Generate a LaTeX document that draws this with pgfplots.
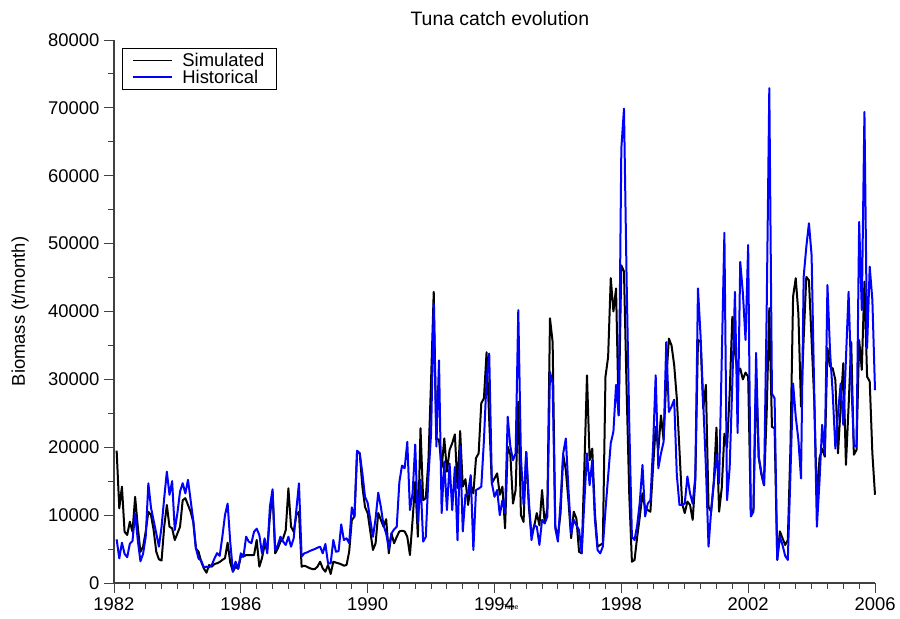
\documentclass[border=0pt]{standalone}
\usepackage{pgfplots}
\usepackage{pgfplotstable}
\pgfplotsset{compat=1.18}
\usepackage{fontspec}
\setmainfont{Liberation Sans}
\pgfplotstableread{
m S H
1 19500 6430
2 11000 3630
3 14200 5940
4 7550 4300
5 7070 3800
6 9030 5800
7 7550 6200
8 12700 10270
9 8300 6300
10 4600 3200
11 5350 4300
12 7550 6800
13 10500 14690
14 10000 11100
15 7800 9200
16 4600 7300
17 3490 5350
18 3300 8300
19 8300 12500
20 11500 16400
21 8300 13000
22 8050 15000
23 6330 7800
24 7300 10300
25 8300 13500
26 12200 14700
27 12500 13200
28 11500 15200
29 10500 12200
30 9000 9200
31 5100 5100
32 4600 3600
33 3140 3300
34 2160 2300
35 1520 2400
36 2650 2300
37 2400 2650
38 2800 3600
39 2900 4400
40 3100 4000
41 3400 6800
42 3650 10000
43 5940 11700
44 3000 6000
45 1670 1670
46 2400 3140
47 2100 2100
48 3900 4370
49 3900 3900
50 4120 6820
51 4120 6100
52 4120 5870
53 4120 7560
54 6340 8000
55 2400 7070
56 3650 4370
57 5600 6580
58 4860 4370
59 9770 11240
60 13460 13800
61 4370 4860
62 5100 5600
63 6100 6820
64 6580 6100
65 7800 5600
66 13950 6820
67 8300 5350
68 7560 6580
69 10000 10750
70 10500 14690
71 2400 3900
72 2550 4370
73 2400 4500
74 2200 4700
75 2060 4860
76 2060 5000
77 2400 5200
78 3140 5350
79 2150 4370
80 1670 5750
81 2650 2900
82 1330 2900
83 3140 6340
84 3000 4600
85 2900 4700
86 2750 8640
87 2550 6340
88 2650 6580
89 4600 5870
90 9280 11150
91 9770 9770
92 19350 19490
93 19100 19100
94 14200 16160
95 11200 12700
96 10300 11800
97 7600 9300
98 4860 6800
99 5850 9500
100 10300 13300
101 9300 11200
102 8300 8500
103 9400 7300
104 4370 5100
105 7300 7300
106 5850 7900
107 6800 8300
108 7600 14900
109 7700 17300
110 7600 16900
111 6800 20800
112 4120 10750
113 9300 13200
114 14900 20400
115 6800 8800
116 22800 15200
117 12200 6100
118 12500 6800
119 18100 15700
120 29900 22000
121 42900 41200
122 21300 20100
123 21100 32800
124 17000 10300
125 21300 17900
126 16400 10750
127 19600 17600
128 20600 10750
129 21900 17100
130 14000 6300
131 22400 20100
132 14200 7600
133 15300 13000
134 11500 13200
135 14400 15900
136 13200 4860
137 18400 13700
138 19100 13900
139 26500 14200
140 27200 21000
141 34000 30000
142 24000 33800
143 14700 14700
144 15400 12700
145 16150 13700
146 13000 10000
147 14200 12200
148 8050 10300
149 20100 24500
150 18900 20100
151 11700 18100
152 13700 19100
153 26700 40200
154 10000 18600
155 9000 11500
156 19300 19300
157 11200 12200
158 7070 6330
159 8300 8500
160 10300 8300
161 8500 5600
162 13700 9300
163 8800 8800
164 11000 9800
165 39000 31100
166 35500 29400
167 8300 8050
168 6800 6100
169 10300 12000
170 18900 19100
171 16600 21300
172 12000 13700
173 6600 7300
174 10500 9300
175 9500 8500
176 4600 7800
177 4370 4370
178 17000 12000
179 30600 19100
180 18100 14400
181 19800 18100
182 10300 9300
183 5350 4860
184 5600 4370
185 5850 5350
186 30400 10750
187 33300 15700
188 44900 20600
189 40000 22300
190 43400 29200
191 24700 24700
192 46800 64000
193 45900 69900
194 28400 44600
195 13000 23500
196 3140 6800
197 3390 6330
198 6800 8500
199 9800 12000
200 13200 17400
201 11000 9800
202 10750 11700
203 10500 12200
204 17000 20000
205 23000 30600
206 19600 16900
207 24700 19100
208 21100 20800
209 30000 35500
210 36000 25200
211 35000 26000
212 32100 27000
213 27200 15900
214 19600 11500
215 11700 11500
216 10300 11700
217 12000 15700
218 11500 13200
219 9300 11700
220 15200 15700
221 35800 43400
222 35500 36300
223 25700 26500
224 29200 17100
225 11200 5350
226 10500 10750
227 15000 14700
228 22900 18900
229 10500 14700
230 14000 33000
231 22000 51600
232 20000 12200
233 28000 17000
234 39200 29400
235 34000 42900
236 31000 22100
237 31600 47300
238 30000 42700
239 31000 35800
240 30400 49800
241 10300 9800
242 10800 10500
243 30000 33900
244 18500 18600
245 16000 16200
246 14400 14400
247 25000 40000
248 40500 72900
249 23000 27900
250 22800 27200
251 3400 3400
252 7600 6800
253 6600 5600
254 5600 4000
255 6330 3400
256 20000 16000
257 42200 29400
258 44900 24500
259 39700 21100
260 26000 15400
261 36000 45100
262 45100 49500
263 44600 53000
264 35800 48300
265 27000 28000
266 12200 8300
267 18400 15000
268 19800 23300
269 18600 19000
270 34600 43900
271 31900 34000
272 31600 27900
273 29900 19800
274 19100 25000
275 26000 29400
276 32400 23300
277 17400 33000
278 26000 42900
279 35500 30000
280 18900 20300
281 19600 20100
282 35800 53200
283 31400 40200
284 44400 69400
285 30400 34600
286 29700 46600
287 19100 41700
288 13000 28400
}\tuna
\begin{document}
\begin{tikzpicture}
\begin{axis}[
  at={(114bp,36bp)}, anchor=south west,
  scale only axis, width=761bp, height=543bp,
  xmin=0, xmax=288, ymin=0, ymax=80000,
  axis x line*=bottom, axis y line*=left,
  axis line style={line width=1.1bp, black!75},
  xtick={0,48,96,144,192,240,288},
  xticklabels={1982,1986,1990,1994,1998,2002,2006},
  minor x tick num=7,
  ytick={0,10000,...,80000},
  minor y tick num=1,
  scaled y ticks=false,
  /pgf/number format/.cd, 1000 sep={}, assume math mode=true,
  /pgfplots/.cd,
  tick align=outside,
  major tick length=10bp, minor tick length=6bp,
  tick style={line width=0.9bp, black!75},
  tick label style={font=\fontsize{18.5}{20}\selectfont},
  xticklabel style={yshift=-1bp},
  yticklabel style={xshift=-1bp},
  xlabel={Time},
  ylabel={Biomass (t/month)},
  every axis x label/.style={at={(axis description cs:0.5216,-0.0442)}, anchor=center, font=\fontsize{7}{8}\selectfont},
  every axis y label/.style={at={(axis description cs:-0.1235,0.5)}, rotate=90, anchor=center, font=\fontsize{18.5}{20}\selectfont},
  title={Tuna catch evolution},
  every axis title/.style={at={(axis description cs:0.507,1.0276)}, anchor=base, font=\fontsize{19.5}{21}\selectfont},
  legend cell align=left,
  legend style={at={(rel axis cs:0.0105,0.985)}, anchor=north west, draw=black,
    font=\fontsize{18.5}{19}\selectfont, inner xsep=10bp, inner ysep=2.5bp, row sep=-2bp,
    /tikz/every odd column/.append style={column sep=8bp}},
  clip=false,
]
\addplot[draw=black, line width=2bp, line join=round] table[x=m, y=S] {\tuna};
\addlegendimage{legend image code/.code={\draw[draw=black, line width=1.2bp] (0bp,0bp) -- (39bp,0bp);}}
\addplot[draw=blue, line width=2bp, line join=round] table[x=m, y=H] {\tuna};
\addlegendimage{legend image code/.code={\draw[draw=blue, line width=1.2bp] (0bp,0bp) -- (39bp,0bp);}}
\legend{,Simulated,,Historical}
\end{axis}
\pgfresetboundingbox
\path[use as bounding box] (0,0) rectangle (900bp,619bp);
\end{tikzpicture}
\end{document}
